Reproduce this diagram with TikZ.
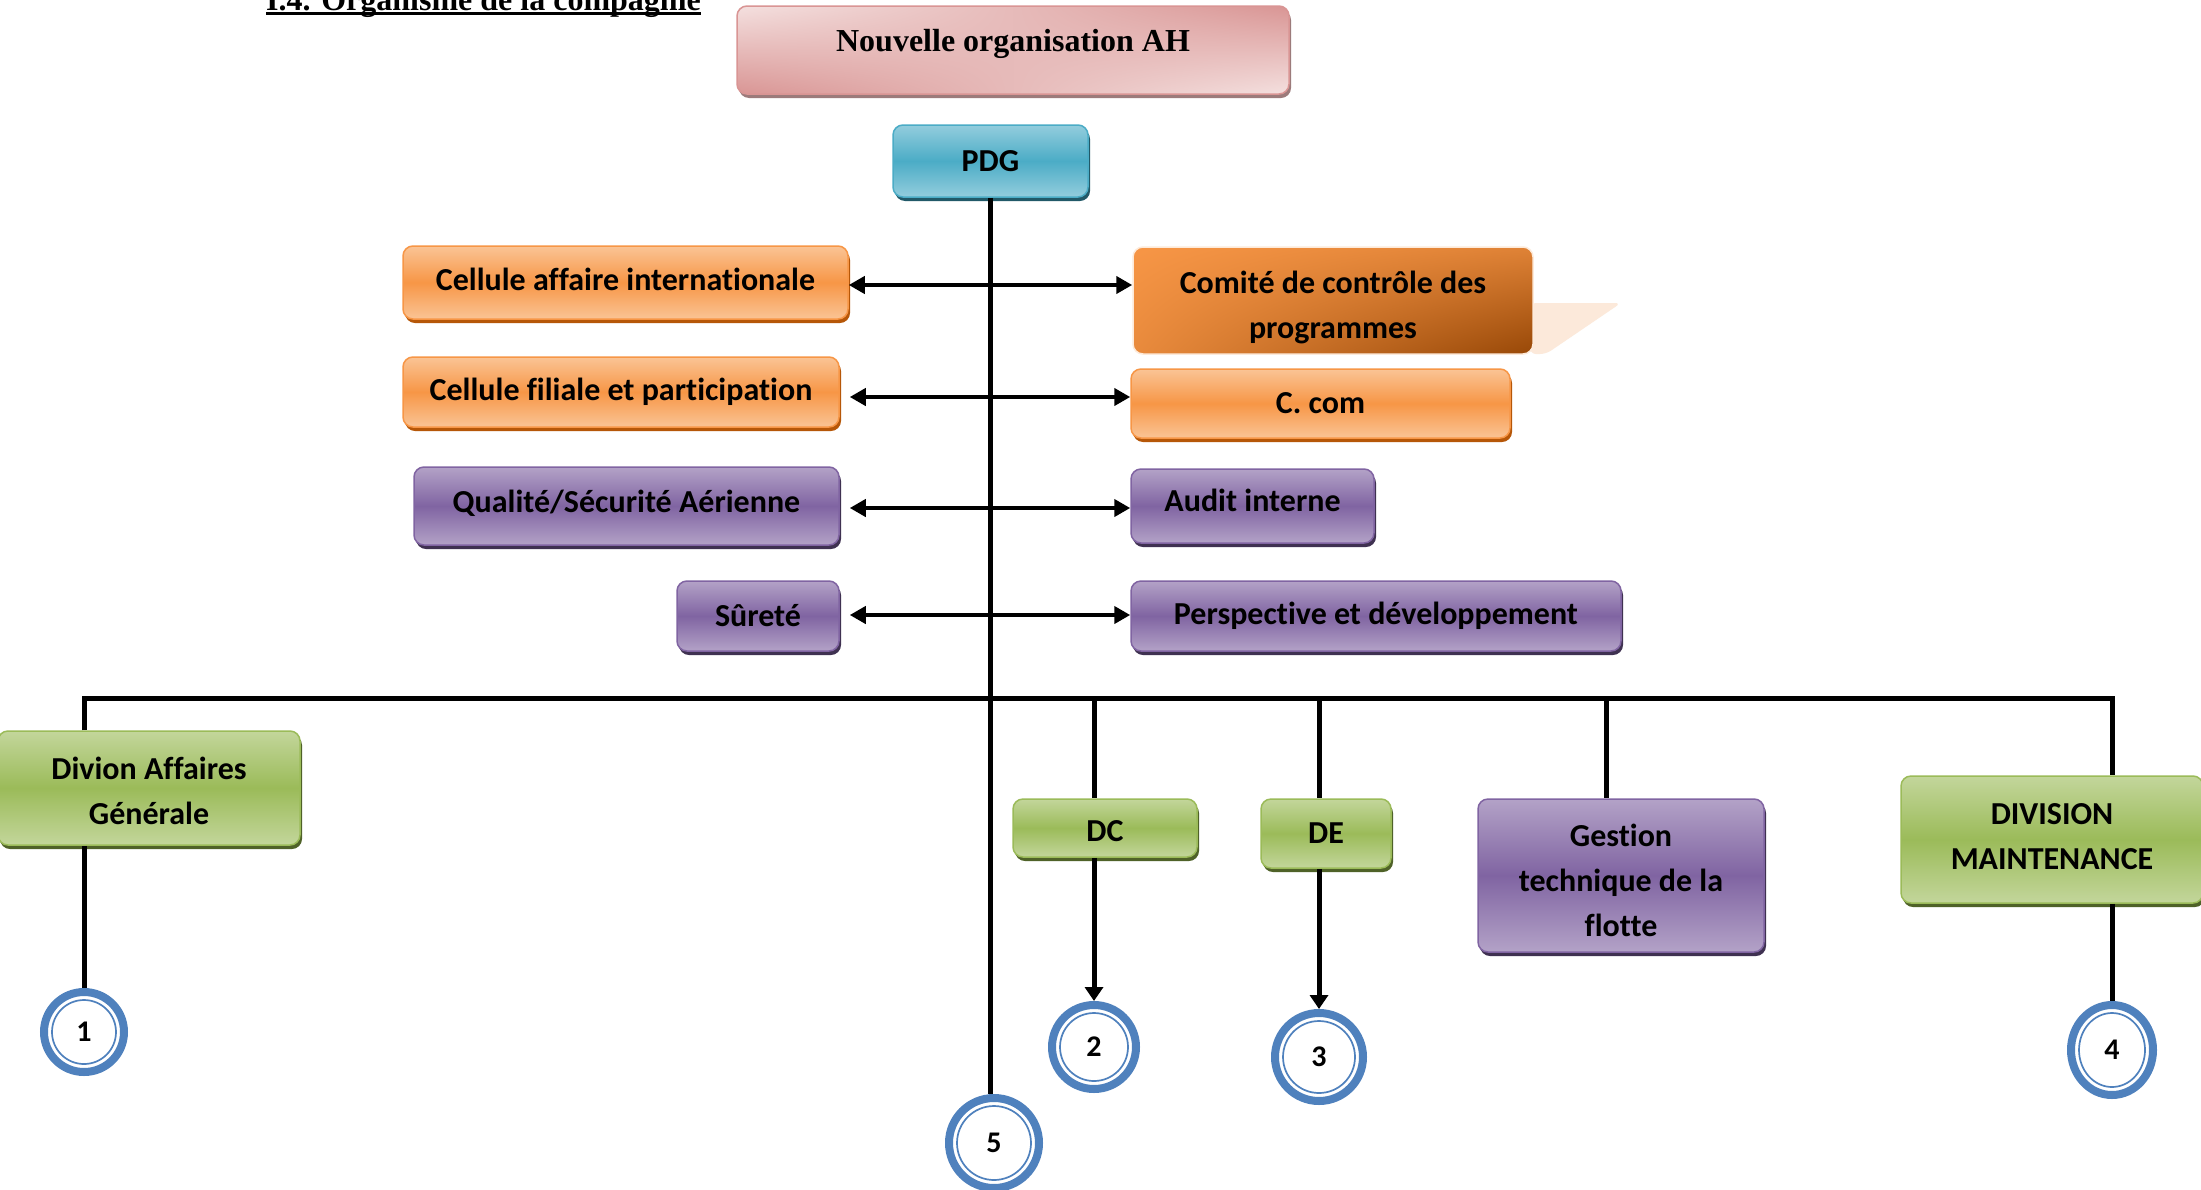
\documentclass[tikz,border=0pt]{standalone}
\usepackage{fontspec}
\setmainfont{Carlito}[Ligatures=NoCommon]
\newfontfamily\titlefont{Liberation Serif}
\usetikzlibrary{arrows.meta,shadows,shadings,shapes.geometric}

% palette
\definecolor{orangeMain}{HTML}{F79646}
\definecolor{orangeLight}{HTML}{FAC495}
\definecolor{orangeShadow}{HTML}{B65708}
\definecolor{purpleMain}{HTML}{8064A2}
\definecolor{purpleLight}{HTML}{B3A2C7}
\definecolor{purpleShadow}{HTML}{3F3151}
\definecolor{greenMain}{HTML}{9BBB59}
\definecolor{greenLight}{HTML}{C3D69B}
\definecolor{greenShadow}{HTML}{4F6228}
\definecolor{blueMain}{HTML}{4BACC6}
\definecolor{blueLight}{HTML}{93CDDD}
\definecolor{blueShadow}{HTML}{215968}
\definecolor{pinkDark}{HTML}{D99594}
\definecolor{pinkLight}{HTML}{F4E0DF}
\definecolor{pinkShadow}{HTML}{9C7B7B}
\definecolor{ringBlue}{HTML}{4F81BD}
\definecolor{peach}{HTML}{FCE9DA}
\definecolor{brownDark}{HTML}{984807}

\tikzset{
  box/.style={rounded corners=10pt, inner sep=0pt, align=center,
    font=\fontsize{32}{45}\selectfont\bfseries, text=black, line width=1.5pt},
  glossy/.style n args={3}{draw=#1, top color=#2, bottom color=#2, middle color=#1,
    drop shadow={shadow xshift=2pt, shadow yshift=-4pt, fill=#3, opacity=1}},
  orangebox/.style={box, glossy={orangeMain}{orangeLight}{orangeShadow}},
  purplebox/.style={box, glossy={purpleMain}{purpleLight}{purpleShadow}},
  greenbox/.style={box, glossy={greenMain}{greenLight}{greenShadow}},
  bluebox/.style={box, glossy={blueMain}{blueLight}{blueShadow}},
  numring/.style 2 args={ellipse, draw=ringBlue, line width=8pt, fill=white, inner sep=0pt,
    minimum width=2*#1-8pt, minimum height=2*#2-8pt,
    font=\fontsize{30}{30}\selectfont\bfseries,
    path picture={\draw[ringBlue, line width=1.7pt] (path picture bounding box.center)
      ellipse[x radius=#1-12pt, y radius=#2-12pt];}},
  conn/.style={line width=5pt},
  arr/.style={conn, -{Triangle[length=14pt, width=18pt]}},
  biarrow/.style={line width=4.5pt,
    {Triangle[length=16pt, width=17pt]}-{Triangle[length=16pt, width=17pt]}},
}

\begin{document}
\begin{tikzpicture}[x=1pt, y=-1pt]
  \useasboundingbox (0,0) rectangle (2201,1189);
  \fill[white] (0,0) rectangle (2201,1189);

  % heading
  \node[anchor=base west, inner sep=0pt, font=\titlefont\bfseries\fontsize{32}{32}\selectfont]
    (title) at (266,10) {I.4. Organisme de la compagnie};
  \draw[line width=3pt] ([yshift=-3.5pt]title.base west) -- ([yshift=-3.5pt]title.base east);

  % top banner
  \node[box, draw=pinkDark, minimum width=552pt, minimum height=88pt,
        upper left=pinkLight, upper right=pinkDark, lower left=pinkDark, lower right=pinkLight,
        drop shadow={shadow xshift=2pt, shadow yshift=-4pt, fill=pinkShadow, opacity=1},
        text height=22pt, text depth=20pt,
        font=\titlefont\bfseries\fontsize{32}{32}\selectfont]
    (nouv) at (1013,50) {Nouvelle organisation AH};

  \node[bluebox, minimum width=195pt, minimum height=72pt] (pdg) at (990.5,161) {PDG};

  % staff units, left column
  \node[orangebox, minimum width=445pt, minimum height=73pt, text depth=6pt] (cai) at (625.5,282.5) {Cellule affaire internationale};
  \node[orangebox, minimum width=436pt, minimum height=70pt] (cfp) at (621,392) {Cellule filiale et participation};
  \node[purplebox, minimum width=425pt, minimum height=78pt, text depth=9pt] (qsa) at (626.5,506) {Qualité/Sécurité Aérienne};
  \node[purplebox, minimum width=162pt, minimum height=70pt] (sur) at (758,616) {Sûreté};

  % staff units, right column
  \fill[peach, rounded corners=6pt] (1530,303) -- (1621,303) -- (1546,354) -- (1530,354) -- cycle;
  \node[box, draw=white!80!orangeMain, minimum width=400pt, minimum height=107pt,
        upper left=orangeMain, upper right=orangeMain!75!brownDark,
        lower left=orangeMain!85!brownDark, lower right=brownDark]
    (ccp) at (1333,300.5) {\rule{0pt}{36pt}Comité de contrôle des\\programmes};
  \node[orangebox, minimum width=379pt, minimum height=69pt] (ccom) at (1320.5,403.5) {C. com};
  \node[purplebox, minimum width=243pt, minimum height=74pt, text depth=11pt] (audit) at (1252.5,506) {Audit interne};
  \node[purplebox, minimum width=490pt, minimum height=70pt] (persp) at (1376,616) {Perspective et développement};

  % divisions
  \node[greenbox, minimum width=302pt, minimum height=114pt] (dag) at (149,788) {\rule{0pt}{28pt}Divion Affaires\\Générale};
  \node[greenbox, minimum width=184pt, minimum height=58pt, text height=26.5pt] (dc) at (1105,828) {DC};
  \node[greenbox, minimum width=130pt, minimum height=69pt] (de) at (1326,833.5) {DE};
  \node[purplebox, minimum width=286pt, minimum height=153pt] (gest) at (1621,875.5) {\rule{0pt}{33pt}Gestion\\technique de la\\flotte};
  \node[greenbox, minimum width=302pt, minimum height=127pt] (dmaint) at (2052,839.5) {DIVISION\\MAINTENANCE\rule[-6pt]{0pt}{0pt}};

  % numbered markers
  \node[numring={44pt}{44pt}] (c1) at (84,1032) {1};
  \node[numring={46pt}{46pt}] (c2) at (1094,1047) {2};
  \node[numring={48pt}{48pt}] (c3) at (1319,1057) {3};
  \node[numring={45pt}{49pt}] (c4) at (2112,1050) {4};
  \node[numring={49pt}{49pt}] (c5) at (994,1143) {5};

  % trunk and horizontal links
  \draw[conn] (pdg.south) -- (pdg.south |- c5.north);
  \draw[biarrow] ([shift={(0,2.5)}]cai.east) -- ([shift={(0,-15.5)}]ccp.west);
  \draw[biarrow] ([shift={(10,5)}]cfp.east) -- ([shift={(0,-6.5)}]ccom.west);
  \draw[biarrow] ([shift={(10,2)}]qsa.east) -- ([shift={(0,2)}]audit.west);
  \draw[biarrow] ([shift={(10,-1)}]sur.east) -- ([shift={(0,-1)}]persp.west);

  % division bar and drops
  \coordinate (barY) at (0,698);
  \coordinate (gx) at (1606,698);
  \draw[conn] (c1.north |- dag.north) -- (c1.north |- barY) -- (c4.north |- barY) -- (c4.north |- dmaint.north);
  \draw[conn] (c1.north |- dag.south) -- (c1.north);
  \draw[conn] (c4.north |- dmaint.south) -- (c4.north);
  \draw[conn] (c2 |- barY) -- (c2 |- dc.north);
  \draw[arr] (c2 |- dc.south) -- (c2.north);
  \draw[conn] (c3 |- barY) -- (c3 |- de.north);
  \draw[arr] (c3 |- de.south) -- (c3.north);
  \draw[conn] (gx) -- (gx |- gest.north);
\end{tikzpicture}
\end{document}
